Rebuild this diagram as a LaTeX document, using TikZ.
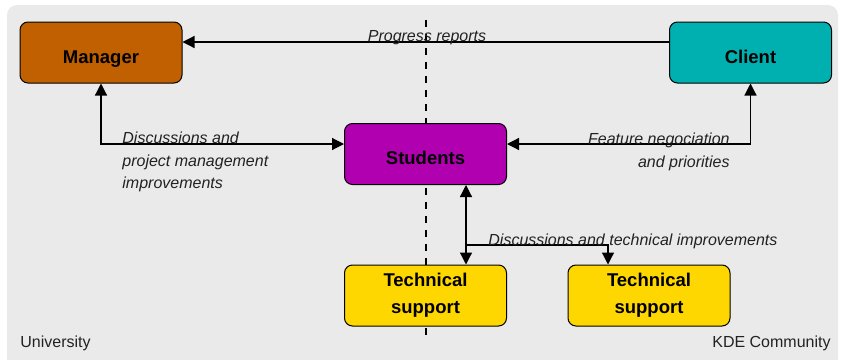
\documentclass[tikz,border=0pt]{standalone}
\usepackage{fontspec}
\setmainfont{Liberation Sans}
\definecolor{pmBack}{HTML}{EAEAEA}
\definecolor{pmManager}{HTML}{C06000}
\definecolor{pmClient}{HTML}{00B0B0}
\definecolor{pmStudents}{HTML}{B000B0}
\definecolor{pmSupport}{HTML}{FFD700}
\definecolor{pmText}{HTML}{222222}
\usetikzlibrary{arrows.meta}

\begin{document}
\begin{tikzpicture}[x=0.5pt,y=-0.5pt,
  >={Triangle[length=6pt,width=6pt]},
  role/.style={draw, line width=0.5pt, rounded corners=4pt, minimum width=81pt,
    minimum height=30.5pt, align=center, font=\fontsize{9.25}{13.5}\selectfont\bfseries},
  oneline/.style={text height=10.5pt, text depth=0pt},
  link/.style={line width=0.6pt},
  note/.style={inner sep=0pt, text=pmText, font=\fontsize{8}{11.25}\selectfont\itshape},
  side/.style={inner sep=0pt, text=pmText, font=\fontsize{8}{10}\selectfont}]
  \useasboundingbox (0,0) rectangle (841,359);
  \fill[pmBack, rounded corners=5pt] (7,5) rectangle (838,370);

  % university / community border
  \coordinate (top) at (426,20);
  \coordinate (bottom) at (426,340);
  \draw[line width=0.6pt, dash pattern=on 3.5pt off 3.5pt] (top) -- (bottom);

  \node[role, oneline, fill=pmManager] (manager) at (101,52.5) {Manager};
  \node[role, oneline, fill=pmClient] (client) at (750.5,52.5) {Client};
  \node[role, oneline, fill=pmStudents] (students) at (425.5,154) {Students};
  \node[role, fill=pmSupport] (support1) at (425.5,295.5) {Technical\\support};
  \node[role, fill=pmSupport] (support2) at (649,295.5) {Technical\\support};

  \draw[link, ->] (client.west |- 0,42) -- (manager.east |- 0,42);
  \draw[link, <->] (manager.south) |- (students.west |- 0,144);
  \draw[link, <->] (client.south) |- (students.east |- 0,144);
  \draw[link, <->] (students.south -| 466,0) -- (support1.north -| 466,0);
  \coordinate (branch) at (466,245);
  \draw[link, ->] (branch) -| (support2.north -| 608,0);

  \node[note, anchor=base] (progress) at (427,41) {Progress reports};
  \node[note, anchor=north west, align=left] (mgmt) at (122,132)
    {Discussions and\\project management\\improvements};
  \node[note, anchor=north east, align=right] (feature) at (730,133)
    {Feature negociation\\and priorities};
  \node[note, anchor=base west] (tech) at (488,245)
    {Discussions and technical improvements};

  \node[side, anchor=base west] (univ) at (20,347) {University};
  \node[side, anchor=base east] (kde) at (831,347) {KDE Community};
\end{tikzpicture}
\end{document}
